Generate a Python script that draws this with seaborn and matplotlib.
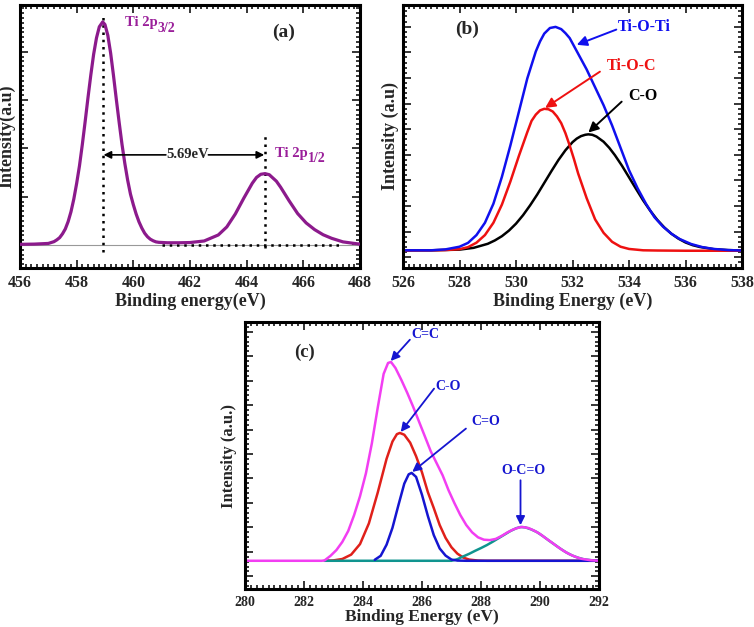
#XPS core-level spectra
#(a) Ti 2p, (b) O 1s, (c) C 1s
import pandas as pd
import seaborn as sns
import matplotlib.pyplot as plt
from matplotlib.ticker import MultipleLocator, AutoMinorLocator

# (a) Ti 2p envelope
ti_energy = [456.0, 456.5, 457.0, 457.2, 457.3, 457.4, 457.5, 457.6, 457.7, 457.8,
             457.9, 458.0, 458.1, 458.2, 458.3, 458.4, 458.5, 458.6, 458.7, 458.8,
             458.92, 459.0, 459.1, 459.2, 459.3, 459.4, 459.5, 459.6, 459.7, 459.8,
             459.9, 460.0, 460.1, 460.2, 460.3, 460.4, 460.5, 460.6, 460.7, 460.8,
             460.9, 461.2, 461.6, 462.0, 462.5, 463.0, 463.3, 463.6, 463.9, 464.2,
             464.35, 464.5, 464.65, 464.8, 465.05, 465.2, 465.5, 465.8, 466.1, 466.4,
             466.7, 467.0, 467.4, 467.8, 468.0]
ti_intensity = [0.3, 0.4, 0.7, 1.5, 2.3, 3.3, 5.0, 7.2, 10.5, 14.9,
                20.6, 27.6, 35.5, 45, 55.3, 66, 76.2, 85.5, 92.8, 97.8,
                100, 98.8, 94, 86, 76, 65.3, 55, 45.2, 36.6, 29.1,
                22.8, 18.1, 13.9, 10.4, 7.6, 5.3, 3.7, 2.6, 1.9, 1.4,
                1.2, 1.0, 1.0, 1.1, 1.8, 4.5, 8.1, 13.9, 21, 27.7,
                30.3, 31.7, 32, 31.5, 28.6, 25.9, 19.8, 14.1, 9.9, 6.9,
                4.6, 3.0, 1.4, 0.7, 0.4]
ti_peaks = [458.92, 464.65]

# (b) O 1s components
tioti_energy = [526.0, 527.0, 527.5, 528.0, 528.3, 528.6, 528.9, 529.2, 529.5, 529.8,
                530.1, 530.4, 530.7, 530.85, 531.0, 531.2, 531.4, 531.6, 531.75, 531.9,
                532.2, 532.5, 532.8, 533.1, 533.4, 533.7, 534.0, 534.3, 534.6, 534.9,
                535.2, 535.5, 535.8, 536.2, 536.6, 537.0, 537.5, 538.0]
tioti_intensity = [0.2, 0.2, 0.6, 1.8, 3.5, 7, 12.5, 21, 33, 47,
                   62, 77, 89, 93.5, 97, 99.5, 100, 99, 97.2, 95,
                   88, 81, 73, 65, 56, 46, 36, 28, 21, 15,
                   10.8, 7.6, 5.2, 3.0, 1.6, 0.8, 0.3, 0.1]

tioc_energy = [526.0, 527.0, 527.5, 528.0, 528.3, 528.6, 528.9, 529.2, 529.5, 529.8,
               530.1, 530.4, 530.55, 530.7, 530.85, 531.0, 531.15, 531.3, 531.45, 531.6,
               531.75, 531.9, 532.05, 532.2, 532.35, 532.5, 532.8, 533.1, 533.4, 533.7,
               534.0, 534.5, 535.0, 536.0, 538.0]
tioc_intensity = [0.1, 0.2, 0.3, 0.7, 1.6, 3.6, 7.0, 12.5, 20.6, 30.9,
                  42.3, 53, 58.0, 60.8, 62.7, 63.4, 63.2, 62.2, 60.0, 57,
                  52.5, 47, 41, 34.5, 29, 23.5, 14, 8, 4.0, 1.8,
                  0.8, 0.2, 0.1, 0, 0]

co_o_energy = [526.0, 527.0, 528.0, 528.5, 529.0, 529.25, 529.5, 529.75, 530.0, 530.25,
               530.5, 530.75, 531.0, 531.25, 531.5, 531.75, 532.0, 532.15, 532.3, 532.45,
               532.56, 532.7, 532.85, 533.1, 533.3, 533.5, 533.75, 534.0, 534.25, 534.5,
               534.75, 535.0, 535.25, 535.5, 535.75, 536.0, 536.25, 536.5, 537.0, 537.5,
               538.0]
co_o_intensity = [0.2, 0.2, 0.5, 1.3, 3.1, 4.6, 6.5, 9.0, 12.1, 15.9,
                  20.3, 25.1, 30.3, 35.5, 40.5, 44.9, 48.5, 50.1, 51.2, 51.8,
                  52, 51.8, 51.0, 48.7, 46, 42.7, 38, 32.8, 27.6, 22.5,
                  17.9, 13.8, 10.4, 7.6, 5.4, 3.7, 2.5, 1.7, 0.7, 0.3,
                  0.1]

# (c) C 1s envelope and components
c1s_energy = [280.0, 282.6, 282.7, 282.9, 283.1, 283.3, 283.5, 283.7, 283.9, 284.1,
              284.3, 284.5, 284.7, 284.85, 284.95, 285.1, 285.3, 285.5, 285.7, 285.9,
              286.1, 286.3, 286.5, 286.7, 286.9, 287.1, 287.3, 287.5, 287.7, 287.9,
              288.1, 288.3, 288.5, 288.7, 288.9, 289.1, 289.3, 289.4, 289.6, 289.8,
              290.0, 290.2, 290.4, 290.6, 290.8, 291.0, 291.2, 291.4, 291.7, 292.0]
c1s_intensity = [0, 0, 0.2, 2.5, 5.4, 9.5, 15, 23, 32.5, 44,
                 59, 77, 94, 99.5, 100, 97, 91, 84.5, 77.5, 70,
                 62.5, 55, 49, 43, 35.5, 29, 23, 18, 14.3, 11.8,
                 10.6, 10.4, 11, 12.5, 14.3, 15.8, 16.8, 17, 16.5, 15.2,
                 13.5, 11.3, 9.2, 7, 5, 3.3, 2, 1, 0.3, 0]

c_co_energy = [282.7, 283.0, 283.3, 283.6, 283.9, 284.2, 284.5, 284.8, 285.0, 285.15,
               285.25, 285.4, 285.6, 285.8, 286.0, 286.2, 286.4, 286.6, 286.8, 287.0,
               287.2, 287.4, 287.6, 287.9, 288.2, 292.0]
c_co_intensity = [0, 0.2, 0.9, 3.1, 8.4, 18.8, 34.3, 51.3, 60, 63.7,
                  64.3, 63.4, 59.4, 52.6, 44.5, 34.5, 26.5, 18.0, 11.5, 6.8,
                  3.6, 1.6, 0.6, 0.1, 0, 0]

c_c_o_energy = [284.4, 284.6, 284.8, 285.0, 285.2, 285.4, 285.55, 285.65, 285.8, 286.0,
                286.2, 286.4, 286.6, 286.8, 287.0, 287.2, 287.5, 292.0]
c_c_o_intensity = [0.5, 2.5, 8.1, 16.6, 27.9, 38.8, 43.5, 44.2, 42.2, 33.2,
                   22.5, 12.9, 6.2, 2.6, 0.6, 0.1, 0, 0]

occo_energy = [282.7, 287.0, 287.2, 287.4, 287.6, 287.8, 288.0, 288.2, 288.4, 288.6,
               288.8, 289.0, 289.2, 289.35, 289.5, 289.7, 289.9, 290.1, 290.3, 290.5,
               290.7, 290.9, 291.1, 291.3, 291.5, 291.8, 292.0]
occo_intensity = [0, 0, 0.8, 2.2, 3.5, 5, 6.4, 7.9, 9.6, 11.4,
                  13.2, 15, 16.4, 17, 16.8, 15.8, 14.4, 12.4, 10.2, 8.1,
                  6, 4.1, 2.6, 1.5, 0.7, 0.2, 0]

sns.set_style("ticks")
plt.rcParams['font.family'] = ['Liberation Serif', 'DejaVu Serif']
plt.rcParams['font.weight'] = 'bold'
plt.rcParams['axes.labelweight'] = 'bold'

fig = plt.figure(figsize=(7.54, 6.27), dpi=100)
ax_a = fig.add_axes([0.0265, 0.5726, 0.4509, 0.4195])
ax_b = fig.add_axes([0.5345, 0.5726, 0.4496, 0.4195])
ax_c = fig.add_axes([0.3249, 0.0606, 0.4695, 0.4258])


def frame(ax, xlim, ylim, ystep, yoff, yminor, fs):
    ax.set_xlim(xlim)
    ax.set_ylim(ylim)
    ax.xaxis.set_major_locator(MultipleLocator(2))
    ax.xaxis.set_minor_locator(MultipleLocator(0.2))
    ax.yaxis.set_major_locator(MultipleLocator(ystep, offset=yoff))
    ax.yaxis.set_minor_locator(AutoMinorLocator(yminor))
    ax.tick_params(which='both', direction='in', top=True, right=True,
                   width=1.3, labelleft=False, labelsize=fs, pad=5)
    ax.tick_params(which='major', length=6)
    ax.tick_params(which='minor', length=3)
    for s in ax.spines.values():
        s.set_linewidth(2.2)
        s.set_color('black')


def arrow(ax, tail, tip, color, ms=15, lw=1.4):
    ax.annotate('', xy=tip, xytext=tail,
                arrowprops=dict(arrowstyle='-|>', color=color, lw=lw,
                                mutation_scale=ms, shrinkA=0, shrinkB=0))


def ti_label(ax, x, y, sub, color):
    ax.text(x, y, 'Ti 2p', color=color, fontsize=10.5, va='baseline')
    ax.annotate(sub, xy=(x, y), xytext=(23.5, -4), textcoords='offset points',
                color=color, fontsize=10, va='baseline')


dots = (0, (1, 1.9))

# ---- (a) ----
purple = '#8c1a8c'
ax_a.axhline(0, color='#999999', lw=0.8, zorder=1)
ax_a.plot([461.0, 467.3], [-0.2, -0.2], color='black', lw=1.8,
          linestyle=dots, zorder=1)
ax_a.plot([ti_peaks[0], ti_peaks[0]], [-3, 102], color='black', lw=1.8,
          linestyle=dots, zorder=1)
ax_a.plot([ti_peaks[1], ti_peaks[1]], [-1.5, 50], color='black', lw=1.8,
          linestyle=dots, zorder=1)
sns.lineplot(x=ti_energy, y=ti_intensity, ax=ax_a, color=purple, lw=2.3,
             estimator=None, zorder=3)
arrow(ax_a, (461.15, 40.4), (ti_peaks[0] + 0.03, 40.4), 'black', ms=11, lw=1.2)
arrow(ax_a, (462.65, 40.4), (ti_peaks[1] - 0.03, 40.4), 'black', ms=11, lw=1.2)
ax_a.text(461.9, 40.4, '5.69eV', ha='center', va='center', fontsize=10.5)
ti_label(ax_a, 459.7, 98, '3/2', '#9a1f9a')
ti_label(ax_a, 465.0, 39.6, '1/2', '#9a1f9a')
ax_a.text(464.9, 93.4, '(a)', fontsize=14, va='baseline')
frame(ax_a, (456, 468), (-10.3, 107.6), 21.65, 0, 10, 11.5)
ax_a.set_xlabel('Binding energy(eV)', fontsize=13, labelpad=1)
ax_a.set_ylabel('Intensity(a.u)', fontsize=13, labelpad=3)

# ---- (b) ----
sns.lineplot(x=co_o_energy, y=co_o_intensity, ax=ax_b, color='black', lw=1.8,
             estimator=None)
sns.lineplot(x=tioc_energy, y=tioc_intensity, ax=ax_b, color='#ee1111', lw=1.8,
             estimator=None)
sns.lineplot(x=tioti_energy, y=tioti_intensity, ax=ax_b, color='#1010ee', lw=1.8,
             estimator=None)
ax_b.text(528.25, 99, '(b)', fontsize=14, ha='center', va='center')
ax_b.text(533.62, 98.3, 'Ti-O-Ti', color='#1010ee', fontsize=11.5, va='baseline')
arrow(ax_b, (533.55, 98.8), (532.15, 92), '#1010ee')
ax_b.text(533.21, 80.8, 'Ti-O-C', color='#ee1111', fontsize=11.5, va='baseline')
arrow(ax_b, (532.97, 80), (531.03, 63.8), '#ee1111')
ax_b.text(533.98, 67.4, 'C-O', color='black', fontsize=11.5, va='baseline')
arrow(ax_b, (533.74, 66.6), (532.56, 52.8), 'black')
frame(ax_b, (526, 538), (-7.7, 109.8), 11.45, 8.5, 5, 11.5)
ax_b.set_xlabel('Binding Energy (eV)', fontsize=13, labelpad=1)
ax_b.set_ylabel('Intensity (a.u)', fontsize=13, labelpad=3)

# ---- (c) ----
cblue = '#1515d0'
sns.lineplot(x=c_co_energy, y=c_co_intensity, ax=ax_c, color='#e0201a', lw=1.8,
             estimator=None)
sns.lineplot(x=occo_energy, y=occo_intensity, ax=ax_c, color='#10948f', lw=1.8,
             estimator=None)
sns.lineplot(x=c_c_o_energy, y=c_c_o_intensity, ax=ax_c, color=cblue, lw=1.8,
             estimator=None)
sns.lineplot(x=c1s_energy, y=c1s_intensity, ax=ax_c, color='#f23ef2', lw=1.8,
             estimator=None)
ax_c.text(282.03, 105, '(c)', fontsize=13.5, ha='center', va='center')
ax_c.text(285.65, 112, 'C=C', color=cblue, fontsize=10, va='baseline')
arrow(ax_c, (285.59, 111.2), (284.94, 100.5), cblue, ms=13, lw=1.3)
ax_c.text(286.44, 85.8, 'C-O', color=cblue, fontsize=10, va='baseline')
arrow(ax_c, (286.41, 86.6), (285.28, 64.8), cblue, ms=13, lw=1.3)
ax_c.text(287.68, 68.2, 'C=O', color=cblue, fontsize=10, va='baseline')
arrow(ax_c, (287.49, 66.5), (285.67, 44.7), cblue, ms=13, lw=1.3)
ax_c.text(289.43, 43.9, 'O-C=O', color=cblue, fontsize=10, ha='center', va='baseline')
arrow(ax_c, (289.34, 40.5), (289.34, 17.9), cblue, ms=13, lw=1.3)
frame(ax_c, (280, 292), (-14.2, 120.1), 12.3, 4.5, 5, 10)
ax_c.set_xlabel('Binding Energy (eV)', fontsize=12.5, labelpad=0)
ax_c.set_ylabel('Intensity (a.u.)', fontsize=12, labelpad=6)

fig.savefig('out.png', dpi=100)
